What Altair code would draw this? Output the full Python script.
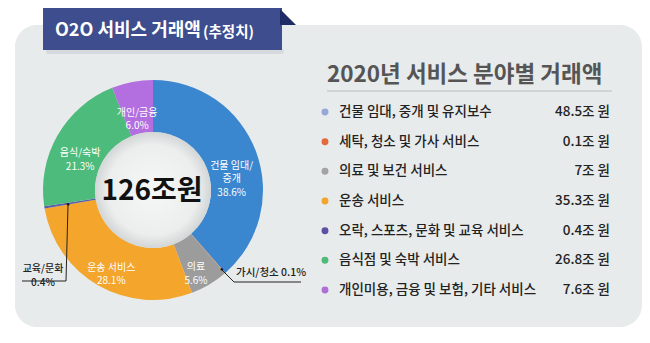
import altair as alt
import pandas as pd

# ---- data ----
cats = ["건물 임대, 중개 및 유지보수", "세탁, 청소 및 가사 서비스", "의료 및 보건 서비스", "운송 서비스",
        "오락, 스포츠, 문화 및 교육 서비스", "음식점 및 숙박 서비스", "개인미용, 금융 및 보험, 기타 서비스"]
values = [48.5, 0.1, 7, 35.3, 0.4, 26.8, 7.6]
value_labels = ["48.5조 원", "0.1조 원", "7조 원", "35.3조 원", "0.4조 원", "26.8조 원", "7.6조 원"]
short_names = ["건물 임대/\n중개", "가시/청소", "의료", "운송 서비스", "교육/문화", "음식/숙박", "개인/금융"]
shares = ["38.6%", "0.1%", "5.6%", "28.1%", "0.4%", "21.3%", "6.0%"]
inside = [True, False, True, True, False, True, True]

ring_colors = ["#3a87d0", "#e0784c", "#9c9c9c", "#f4a52b", "#5b5dab", "#4dbb7b", "#b36ee0"]
dot_colors = ["#97a7d9", "#e4693d", "#a3a3a3", "#f2a42c", "#5c50a4", "#4fba78", "#ae6fd6"]

FONT = "Noto Sans CJK KR"
CX, CY = 153, 190

df = pd.DataFrame({
    "idx": list(range(len(cats))),
    "cat": cats,
    "value": values,
    "vlabel": value_labels,
    "inlabel": [f"{s}\n{p}" if i else "" for s, p, i in zip(short_names, shares, inside)],
    "ext1": [f"{s} {p}" for s, p in zip(short_names, shares)],
    "ext2": [f"{s}\n{p}" for s, p in zip(short_names, shares)],
})

one = pd.DataFrame({"k": [0]})

base = alt.Chart(df)
theta = alt.Theta("value:Q", stack=True)
order = alt.Order("idx:Q", sort="ascending")

# background panel
panel = alt.Chart(one).mark_rect(fill="#e8ebeb", cornerRadius=22).encode(
    x=alt.value(15), x2=alt.value(642), y=alt.value(25), y2=alt.value(327))

# banner
banner_shadow = alt.Chart(one).mark_rect(fill="#cfd3d8", opacity=0.7, cornerRadius=3).encode(
    x=alt.value(46), x2=alt.value(284), y=alt.value(49), y2=alt.value(54))
banner = alt.Chart(one).mark_rect(fill="#3d4d8d").encode(
    x=alt.value(43), x2=alt.value(282), y=alt.value(8), y2=alt.value(50))
fold = alt.Chart(one).mark_point(shape="M-1,-1 L1,1 L-1,1 Z", size=256, filled=True,
                                 fill="#1f2b66", opacity=1).encode(
    x=alt.value(288), y=alt.value(17))
banner_t1 = alt.Chart(one).mark_text(text="O2O 서비스 거래액", font=FONT, fontSize=18, fontWeight="bold",
                                     color="white", align="left", baseline="middle").encode(
    x=alt.value(55), y=alt.value(31))
banner_t2 = alt.Chart(one).mark_text(text="(추정치)", font=FONT, fontSize=14.5, fontWeight="bold",
                                     color="white", align="left", baseline="middle").encode(
    x=alt.value(203), y=alt.value(32.5))

# donut
ring = base.mark_arc(outerRadius=110, innerRadius=58, stroke=None).encode(
    theta=theta, order=order,
    color=alt.Color("cat:N", scale=alt.Scale(domain=cats, range=ring_colors), legend=None),
    x=alt.value(CX), y=alt.value(CY))

inner = alt.Chart(one).mark_arc(
    innerRadius=0, outerRadius=58, theta=0, theta2=6.2832,
    fill=alt.RadialGradient(gradient="radial",
                            stops=[alt.GradientStop(offset=0, color="#f6f7f7"),
                                   alt.GradientStop(offset=0.78, color="#eceeee"),
                                   alt.GradientStop(offset=1, color="#d3d6d6")],
                            x1=0.5, y1=0.5, x2=0.5, y2=0.5, r1=0, r2=0.5)).encode(
    x=alt.value(CX), y=alt.value(CY))

center_txt = alt.Chart(one).mark_text(text="126조원", font=FONT, fontSize=28, fontWeight="bold",
                                      color="#111", baseline="middle", align="center").encode(
    x=alt.value(152), y=alt.value(192))

in_labels = base.mark_text(radius=84, font=FONT, fontSize=10, lineHeight=13.5, color="white",
                           lineBreak="\n", baseline="middle", align="center", dy=5).encode(
    theta=theta, order=order, detail="cat:N", text="inlabel:N",
    x=alt.value(CX), y=alt.value(CY))

dot_a = base.mark_text(radius=105, text="●", fontSize=6, color="#111", baseline="middle").encode(
    theta=theta, order=order, detail="cat:N",
    opacity=alt.condition(alt.datum.idx == 1, alt.value(1), alt.value(0)),
    x=alt.value(CX), y=alt.value(CY))
dot_b = base.mark_text(radius=86, text="●", fontSize=6, color="#111", baseline="middle").encode(
    theta=theta, order=order, detail="cat:N",
    opacity=alt.condition(alt.datum.idx == 4, alt.value(1), alt.value(0)),
    x=alt.value(CX), y=alt.value(CY))

# leader lines
def seg(x1, y1, x2, y2):
    return alt.Chart(one).mark_rule(color="#222", strokeWidth=1).encode(
        x=alt.value(x1), y=alt.value(y1), x2=alt.value(x2), y2=alt.value(y2))

leaders = [seg(222, 270, 234, 282), seg(234, 282, 301, 282),
           seg(68, 205, 66, 281), seg(66, 281, 22, 281)]

ext_a = base.transform_filter(alt.datum.idx == 1).mark_text(
    font=FONT, fontSize=10.5, fontWeight=500, color="#222", align="left", baseline="middle").encode(
    text="ext1:N", x=alt.value(236), y=alt.value(273))
ext_b = base.transform_filter(alt.datum.idx == 4).mark_text(
    font=FONT, fontSize=10, fontWeight=500, color="#222", align="center", baseline="middle",
    lineBreak="\n", lineHeight=13.5).encode(
    text="ext2:N", x=alt.value(43), y=alt.value(269))

# right-hand list
list_title = alt.Chart(one).mark_text(text="2020년 서비스 분야별 거래액", font=FONT, fontSize=22.5,
                                      fontWeight="bold", color="#555", align="left",
                                      baseline="middle").encode(x=alt.value(327), y=alt.value(75))
list_rule = alt.Chart(one).mark_rule(color="#c9cdcd", strokeWidth=1.5).encode(
    x=alt.value(327), x2=alt.value(612), y=alt.value(91))

ypos = alt.Y("cat:N", sort=cats, axis=None,
             scale=alt.Scale(type="point", range=[112, 290], padding=0))
list_dots = base.mark_circle(size=48, opacity=1).encode(
    y=ypos, x=alt.value(325),
    fill=alt.Fill("cat:N", scale=alt.Scale(domain=cats, range=dot_colors), legend=None))
list_names = base.mark_text(font=FONT, fontSize=13.5, fontWeight=500, color="#222",
                            align="left", baseline="middle").encode(
    y=ypos, x=alt.value(339), text="cat:N")
list_vals = base.mark_text(font=FONT, fontSize=13.5, fontWeight=500, color="#222",
                           align="right", baseline="middle").encode(
    y=ypos, x=alt.value(610), text="vlabel:N")

chart = alt.layer(
    panel, banner_shadow, banner, fold, banner_t1, banner_t2,
    ring, inner, center_txt, in_labels, *leaders, dot_a, dot_b, ext_a, ext_b,
    list_title, list_rule, list_dots, list_names, list_vals
).properties(
    width=650, height=343, padding=0, background="white",
    autosize=alt.AutoSizeParams(type="none")
).configure_view(stroke=None)

chart.save("out.html", embed_options={"renderer": "svg", "actions": False})
